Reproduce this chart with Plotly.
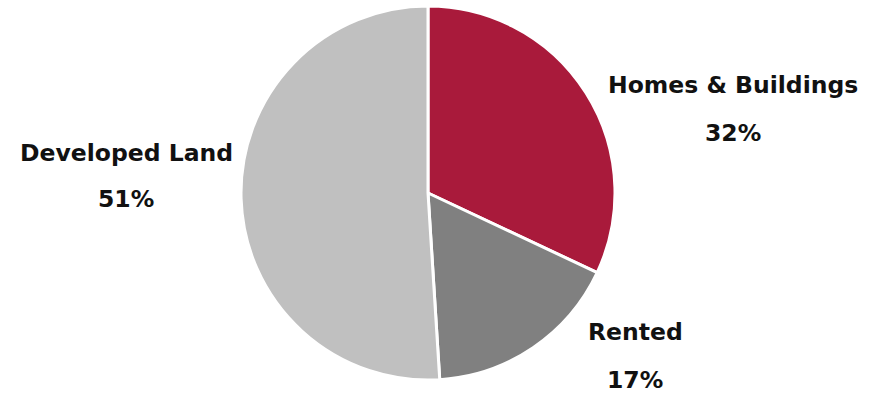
import plotly.graph_objects as go

# Share of assets by category
categories = ["Homes & Buildings", "Rented", "Developed Land"]
shares = [32, 17, 51]
colors = ["#A91A3B", "#808080", "#C0C0C0"]

W, H = 879, 395

fig = go.Figure(go.Pie(
    labels=categories,
    values=shares,
    sort=False,
    direction="clockwise",
    rotation=0,
    marker=dict(colors=colors, line=dict(color="white", width=3)),
    textinfo="none",
    hoverinfo="label+percent",
    showlegend=False,
    domain=dict(x=[241 / W, 615 / W], y=[1 - 380 / H, 1 - 6 / H]),
))

# Outside labels: name on top, percentage below
label_pos = {
    "Homes & Buildings": (733, 85, 133),
    "Rented": (635, 332, 380),
    "Developed Land": (126, 153, 199),
}
font = dict(family="DejaVu Sans", size=23.5, color="#111111")
total = sum(shares)
for cat, val in zip(categories, shares):
    x, y1, y2 = label_pos[cat]
    fig.add_annotation(x=x / W, y=1 - y1 / H, xref="paper", yref="paper",
                       text=f"<b>{cat}</b>", showarrow=False, font=font,
                       xanchor="center", yanchor="middle")
    fig.add_annotation(x=x / W, y=1 - y2 / H, xref="paper", yref="paper",
                       text=f"<b>{round(val / total * 100)}%</b>", showarrow=False, font=font,
                       xanchor="center", yanchor="middle")

fig.update_layout(
    width=W, height=H,
    margin=dict(l=0, r=0, t=0, b=0),
    paper_bgcolor="white",
    plot_bgcolor="white",
)

fig.write_html("out.html")
